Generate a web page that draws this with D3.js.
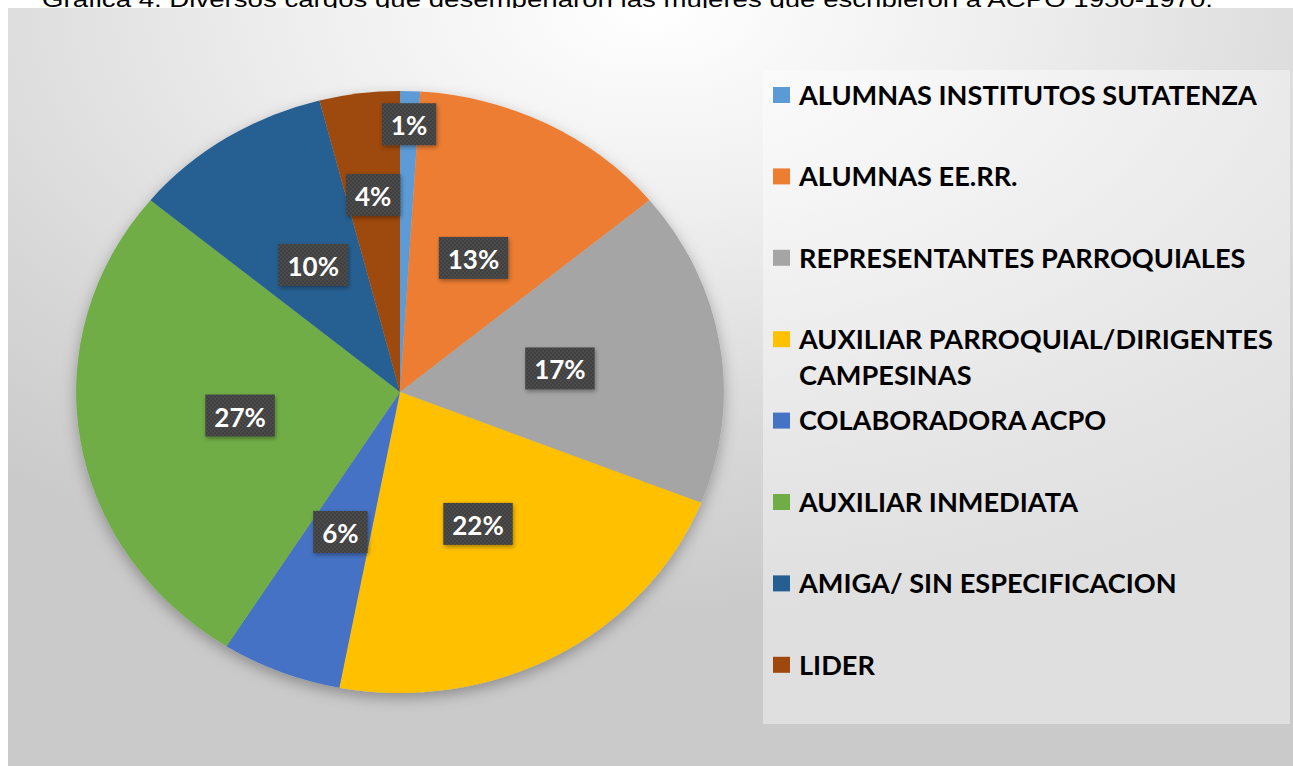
<!DOCTYPE html>
<html>
<head>
<meta charset="utf-8">
<title>Gráfica 4</title>
<script src="https://d3js.org/d3.v7.min.js"></script>
<style>
  body { margin: 0; background: #fff; overflow: hidden; }
  svg { display: block; }
</style>
</head>
<body>
<script>
// datos
const categorias = ["ALUMNAS INSTITUTOS SUTATENZA", "ALUMNAS EE.RR.", "REPRESENTANTES PARROQUIALES",
  "AUXILIAR PARROQUIAL/DIRIGENTES CAMPESINAS", "COLABORADORA ACPO", "AUXILIAR INMEDIATA",
  "AMIGA/ SIN ESPECIFICACION", "LIDER"];
const valores = [1, 13, 17, 22, 6, 27, 10, 4];
const colores = ["#5B9BD5", "#ED7D31", "#A5A5A5", "#FFC000", "#4472C4", "#70AD47", "#255E91", "#9E480E"];
const titulo = "Gráfica 4. Diversos cargos que desempeñaron las mujeres que escribieron a ACPO 1950-1970.";

const W = 1293, H = 766;
const svg = d3.select("body").append("svg").attr("width", W).attr("height", H);
const defs = svg.append("defs");

const grad = defs.append("radialGradient").attr("id", "fondo")
  .attr("cx", "50%").attr("cy", "0%").attr("r", "80%");
grad.append("stop").attr("offset", "0").attr("stop-color", "#ffffff");
grad.append("stop").attr("offset", "0.35").attr("stop-color", "#eeeeee");
grad.append("stop").attr("offset", "0.75").attr("stop-color", "#d6d6d6");
grad.append("stop").attr("offset", "1").attr("stop-color", "#cacaca");

const sombra = defs.append("filter").attr("id", "sombra")
  .attr("x", "-20%").attr("y", "-20%").attr("width", "140%").attr("height", "140%");
sombra.append("feDropShadow").attr("dx", 0).attr("dy", 5).attr("stdDeviation", 7)
  .attr("flood-color", "#000").attr("flood-opacity", 0.3);

const sombraCaja = defs.append("filter").attr("id", "sombraCaja")
  .attr("x", "-30%").attr("y", "-30%").attr("width", "160%").attr("height", "160%");
sombraCaja.append("feDropShadow").attr("dx", 1).attr("dy", 2).attr("stdDeviation", 2)
  .attr("flood-color", "#000").attr("flood-opacity", 0.35);

const puntos = defs.append("pattern").attr("id", "puntos")
  .attr("width", 4).attr("height", 4).attr("patternUnits", "userSpaceOnUse");
puntos.append("rect").attr("width", 4).attr("height", 4).attr("fill", "#3f3f3f");
puntos.append("circle").attr("cx", 1).attr("cy", 1).attr("r", 0.8).attr("fill", "#5a5a5a");
puntos.append("circle").attr("cx", 3).attr("cy", 3).attr("r", 0.8).attr("fill", "#5a5a5a");

// título (recortado por el área del gráfico)
svg.append("text").attr("x", 42).attr("y", 7)
  .attr("font-family", "Liberation Sans, Arial, sans-serif").attr("font-size", 22)
  .attr("textLength", 1171).attr("lengthAdjust", "spacingAndGlyphs")
  .attr("fill", "#000").text(titulo);

// área del gráfico
svg.append("rect").attr("x", 8).attr("y", 8).attr("width", W - 8).attr("height", H - 8)
  .attr("fill", "url(#fondo)");

// pastel
const cx = 400, cy = 392, r = 301, sx = 1.076;
const pie = d3.pie().sort(null).value(d => d);
const arcos = pie(valores);
const arc = d3.arc().innerRadius(0).outerRadius(r);

const g = svg.append("g").attr("transform", `translate(${cx},${cy}) scale(${sx},1)`)
  .attr("filter", "url(#sombra)");
g.selectAll("path").data(arcos).enter().append("path")
  .attr("d", arc).attr("fill", (d, i) => colores[i]);

// etiquetas de datos
const total = d3.sum(valores);
const fuente = "Lato, 'Open Sans', sans-serif";
const etiquetas = svg.append("g");
const cajas = [];
const orden = d3.range(valores.length).sort((a, b) => valores[b] - valores[a]);
const sep = 26;
orden.forEach(i => {
  const d = arcos[i];
  const txt = Math.round(valores[i] / total * 100) + "%";
  const t = etiquetas.append("text").attr("font-family", fuente).attr("font-weight", "bold")
    .attr("font-size", 26).attr("fill", "#fff").attr("text-anchor", "middle")
    .attr("dominant-baseline", "central").text(txt);
  const w = t.node().getComputedTextLength() + 18, h = 42;
  const a = (d.startAngle + d.endAngle) / 2;
  let f = 0.5, x, y;
  const choca = () => cajas.some(c => Math.abs(c.x - x) < (c.w + w) / 2 + sep && Math.abs(c.y - y) < (c.h + h) / 2 + sep);
  do {
    x = cx + Math.sin(a) * r * f * sx;
    y = cy - Math.cos(a) * r * f;
    f += 0.01;
  } while (choca() && f < 0.95);
  cajas.push({x, y, w, h});
  etiquetas.insert("rect", "text").attr("x", x - w / 2).attr("y", y - h / 2)
    .attr("width", w).attr("height", h).attr("fill", "url(#puntos)").attr("filter", "url(#sombraCaja)");
  t.attr("x", x).attr("y", y + 1);
});
// texto por encima de todas las cajas
etiquetas.selectAll("text").raise();

// leyenda
const ley = svg.append("g");
ley.append("rect").attr("x", 763).attr("y", 70).attr("width", 527).attr("height", 654)
  .attr("fill", "#fff").attr("fill-opacity", 0.4);

const y0 = 95, paso = 81.4;
const lineas = [["ALUMNAS INSTITUTOS SUTATENZA"], ["ALUMNAS EE.RR."], ["REPRESENTANTES PARROQUIALES"],
  ["AUXILIAR PARROQUIAL/DIRIGENTES", "CAMPESINAS"], ["COLABORADORA ACPO"], ["AUXILIAR INMEDIATA"],
  ["AMIGA/ SIN ESPECIFICACION"], ["LIDER"]];
const items = ley.selectAll(".item").data(categorias).enter().append("g")
  .attr("class", "item").attr("transform", (d, i) => `translate(773,${y0 + i * paso})`);
items.append("rect").attr("x", 0).attr("y", -8).attr("width", 17).attr("height", 16)
  .attr("fill", (d, i) => colores[i]);
const textos = items.append("text").attr("font-family", fuente).attr("font-weight", "bold")
  .attr("font-size", 26).attr("fill", "#000").attr("dominant-baseline", "central");
textos.each(function (d, i) {
  const el = d3.select(this);
  lineas[i].forEach((l, j) => el.append("tspan").attr("x", 26).attr("y", j * 36).text(l));
});
// ajuste horizontal para igualar el ancho de la fuente original
const ancho = textos.nodes()[0].getComputedTextLength();
const esc = 458 / ancho;
textos.attr("transform", `scale(${esc},1)`).attr("x", 0);
textos.selectAll("tspan").attr("x", 26 / esc);
</script>
</body>
</html>
